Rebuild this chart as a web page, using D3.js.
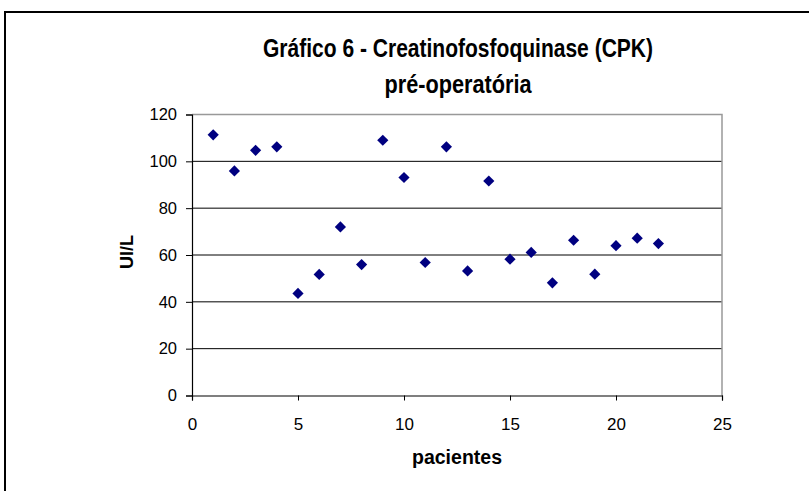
<!DOCTYPE html>
<html>
<head>
<meta charset="utf-8">
<script src="https://cdn.jsdelivr.net/npm/d3@7"></script>
<style>
  body { margin: 0; background: #fff; }
  text { font-family: "Liberation Sans", Arial, sans-serif; }
</style>
</head>
<body>
<div id="chart"></div>
<script>
// dados: CPK pré-operatória por paciente
const pacientes = [1, 2, 3, 4, 5, 6, 7, 8, 9, 10, 11, 12, 13, 14, 15, 16, 17, 18, 19, 20, 21, 22]
const cpk = [111.3, 95.9, 104.7, 106.2, 43.6, 51.7, 72.0, 55.9, 109.0, 93.1, 56.8,
             106.2, 53.2, 91.6, 58.2, 61.1, 48.1, 66.3, 51.8, 64.0, 67.2, 64.9]
const xTicks = [0, 5, 10, 15, 20, 25]
const yTicks = [0, 20, 40, 60, 80, 100, 120]
const titleLines = ["Gráfico 6 - Creatinofosfoquinase (CPK)", "pré-operatória"]

let width = 809
let height = 491
let plot = { left: 192, right: 722, top: 114.5, bottom: 395.5 }

var svg = d3.select("#chart")
    .append("svg")
    .attr("width", width)
    .attr("height", height)

// moldura externa
svg.append("rect")
    .attr("x", 5)
    .attr("y", 12)
    .attr("width", 820)
    .attr("height", 500)
    .attr("fill", "none")
    .attr("stroke", "black")
    .attr("stroke-width", 2)

var x = d3.scaleLinear().domain([0, 25]).range([plot.left, plot.right])
var y = d3.scaleLinear().domain([0, 120]).range([plot.bottom, plot.top])

// linhas de grade
svg.selectAll("grid")
    .data(yTicks.slice(1, -1))
    .enter()
    .append("line")
    .attr("x1", plot.left)
    .attr("x2", plot.right)
    .attr("y1", d => y(d))
    .attr("y2", d => y(d))
    .attr("stroke", "black")
    .attr("stroke-width", 1)

// borda cinza da área de plotagem (topo e direita)
svg.append("path")
    .attr("d", `M${plot.left},${plot.top}H${plot.right}V${plot.bottom}`)
    .attr("fill", "none")
    .attr("stroke", "#999")
    .attr("stroke-width", 1.5)

const xAxis = svg.append("g")
    .attr("transform", `translate(0,${plot.bottom})`)
    .call(d3.axisBottom(x).tickValues(xTicks).tickSize(5).tickPadding(17))
xAxis.select(".domain").attr("stroke", "black").attr("stroke-width", 1.2)
xAxis.selectAll("text").style("font-size", "17px").attr("fill", "black")

const yAxis = svg.append("g")
    .attr("transform", `translate(${plot.left},0)`)
    .call(d3.axisLeft(y).tickValues(yTicks).tickSize(6).tickPadding(9))
yAxis.select(".domain").attr("stroke", "black").attr("stroke-width", 1.2)
yAxis.selectAll("text").style("font-size", "16.5px").attr("fill", "black")

// pontos (losangos)
const diamond = d3.symbol().type(d3.symbolDiamond2).size(80)
svg.selectAll("points")
    .data(pacientes)
    .enter()
    .append("path")
    .attr("d", diamond)
    .attr("transform", (d, i) => `translate(${x(d)},${y(cpk[i])})`)
    .attr("fill", "#000080")

// título (um pouco esticado na vertical, como no original)
const titleWidths = [390, 147]
svg.selectAll("title")
    .data(titleLines)
    .enter()
    .append("text")
    .text(d => d)
    .attr("transform", (d, i) => `translate(458,${57 + i * 36}) scale(1,1.2)`)
    .attr("text-anchor", "middle")
    .attr("textLength", (d, i) => titleWidths[i])
    .attr("lengthAdjust", "spacingAndGlyphs")
    .style("font-size", "22px")
    .style("font-weight", "bold")

svg.append("text")
    .text("pacientes")
    .attr("transform", `translate(${x(12.5)},464) scale(1,1.1)`)
    .attr("text-anchor", "middle")
    .attr("textLength", 90)
    .attr("lengthAdjust", "spacingAndGlyphs")
    .style("font-size", "18px")
    .style("font-weight", "bold")

svg.append("text")
    .text("UI/L")
    .attr("transform", `translate(133,252) rotate(-90)`)
    .attr("text-anchor", "middle")
    .style("font-size", "18px")
    .style("font-weight", "bold")
</script>
</body>
</html>
